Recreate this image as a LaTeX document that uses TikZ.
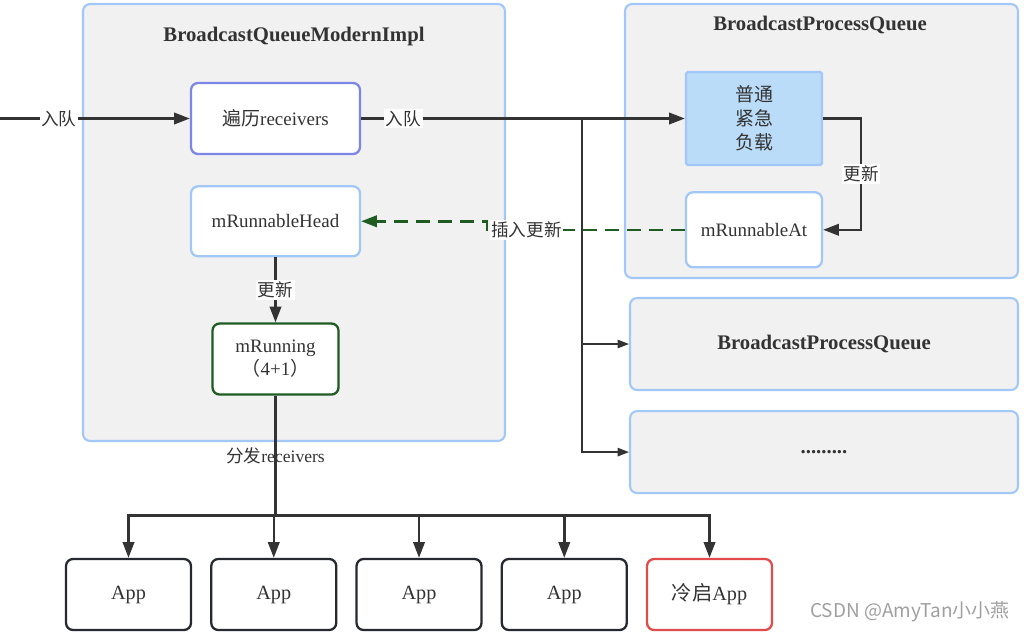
\documentclass[tikz,border=0pt]{standalone}
\usepackage{fontspec}
\setmainfont{Liberation Serif}
\newfontfamily\cjk{Noto Sans CJK SC}
\usetikzlibrary{arrows.meta, positioning}

\definecolor{ink}{HTML}{333333}
\definecolor{qblue}{HTML}{A2C8F8}
\definecolor{qgray}{HTML}{F1F1F1}
\definecolor{travblue}{HTML}{7B86E6}
\definecolor{rungreen}{HTML}{1E5C22}
\definecolor{prifill}{HTML}{BBDCF8}
\definecolor{appdark}{HTML}{262A30}
\definecolor{coldred}{HTML}{E24B4B}

\tikzset{
  frame/.style={draw=qblue, fill=qgray, line width=1.2pt, rounded corners=4pt, inner sep=0pt},
  box/.style={draw=qblue, fill=white, line width=1.3pt, rounded corners=4pt, text=ink,
    align=center, font=\fontsize{10.8}{13}\selectfont},
  appbox/.style={box, draw=appdark, minimum width=2.5cm, minimum height=1.42cm,
    font=\fontsize{11.5}{14}\selectfont},
  title/.style={text=ink, font=\bfseries\fontsize{11.8}{14}\selectfont},
  lbl/.style={fill=white, text=ink, inner sep=1pt, font=\cjk\fontsize{10}{12}\selectfont},
  arr/.style={draw=ink, line width=1.4pt, -{Triangle[length=9pt, width=6.5pt]}},
  thinarr/.style={draw=ink, line width=0.8pt, -{Triangle[length=6.5pt, width=4.8pt]}},
  dasharr/.style={draw=rungreen, line width=1.4pt, dash pattern=on 8pt off 4.5pt,
    -{Triangle[length=9pt, width=6.5pt]}}
}

\begin{document}
\begin{tikzpicture}[x=0.02cm, y=-0.02cm]
   \useasboundingbox (0,0) rectangle (1024,633);
   % Queue frames
   \node[frame, minimum width=8.44cm, minimum height=8.74cm] (qmi) at (294,222.5) {};
   \node[title] (qmiT) at (294,37) {BroadcastQueueModernImpl};
   \node[frame, minimum width=7.86cm, minimum height=5.48cm] (bpq) at (821.5,141) {};
   \node[title] (bpqT) at (820,25) {BroadcastProcessQueue};
   \node[frame, title, minimum width=7.76cm, minimum height=1.84cm] (bpq2) at (824,344) {BroadcastProcessQueue};
   \node[frame, title, below=0.38cm of bpq2, minimum width=7.76cm, minimum height=1.64cm] (more) {.........};

   % Boxes inside the frames
   \node[box, draw=travblue, minimum width=3.38cm, minimum height=1.42cm] (trav) at (275.5,118.5) {{\cjk 遍历}receivers};
   \node[box, below=0.6cm of trav, minimum width=3.38cm, minimum height=1.4cm] (head) {mRunnableHead};
   \node[box, draw=rungreen, below=1.3cm of head, minimum width=2.52cm, minimum height=1.42cm] (run) {mRunning\\{\cjk （}4+1{\cjk ）}};
   \node[box, fill=prifill, rounded corners=1pt, minimum width=2.72cm, minimum height=1.86cm,
     font=\cjk\fontsize{10.8}{13.6}\selectfont] (pri) at (754,118.5) {普通\\紧急\\负载};
   \node[box, below=0.5cm of pri, minimum width=2.72cm, minimum height=1.5cm] (rat) {mRunnableAt};

   % Apps
   \node[appbox] (app1) at (128.5,594.5) {App};
   \node[appbox, right=0.36cm of app1] (app2) {App};
   \node[appbox, right=0.36cm of app2] (app3) {App};
   \node[appbox, right=0.36cm of app3] (app4) {App};
   \node[appbox, draw=coldred, right=0.36cm of app4] (app5) {{\cjk 冷启}App};

   \node[text=gray!75, font=\cjk\fontsize{10.8}{13}\selectfont] (mark) at (910,612) {CSDN @AmyTan小小燕};

   % Connect everything
   \coordinate (src) at (0,118.5);
   \coordinate (split) at (582,118.5);
   \draw[arr] (src) -- node[lbl, pos=0.31] {入队} (trav);
   \draw[arr] (trav) -- node[lbl, pos=0.13] {入队} (pri);
   \draw[thinarr] (split) |- (bpq2.west);
   \draw[thinarr] (split) |- (more.west);
   \draw[arr] (pri.east) -- ++(38,0) |- node[lbl, pos=0.25] {更新} (rat.east);
   \draw[dasharr] (rat.west) -- node[lbl, pos=0.8] {插入更新} ++(-198,0) |- (head.east);
   \draw[arr] (head) -- node[lbl] {更新} (run);
   \draw[arr] (run.south) -- node[lbl] {分发{\rmfamily receivers}} ++(0,120) -| (app1.north);
   \foreach \a in {app2,app3,app4,app5}
      \draw[arr] (run.south) -- ++(0,120) -| (\a.north);
\end{tikzpicture}
\end{document}
